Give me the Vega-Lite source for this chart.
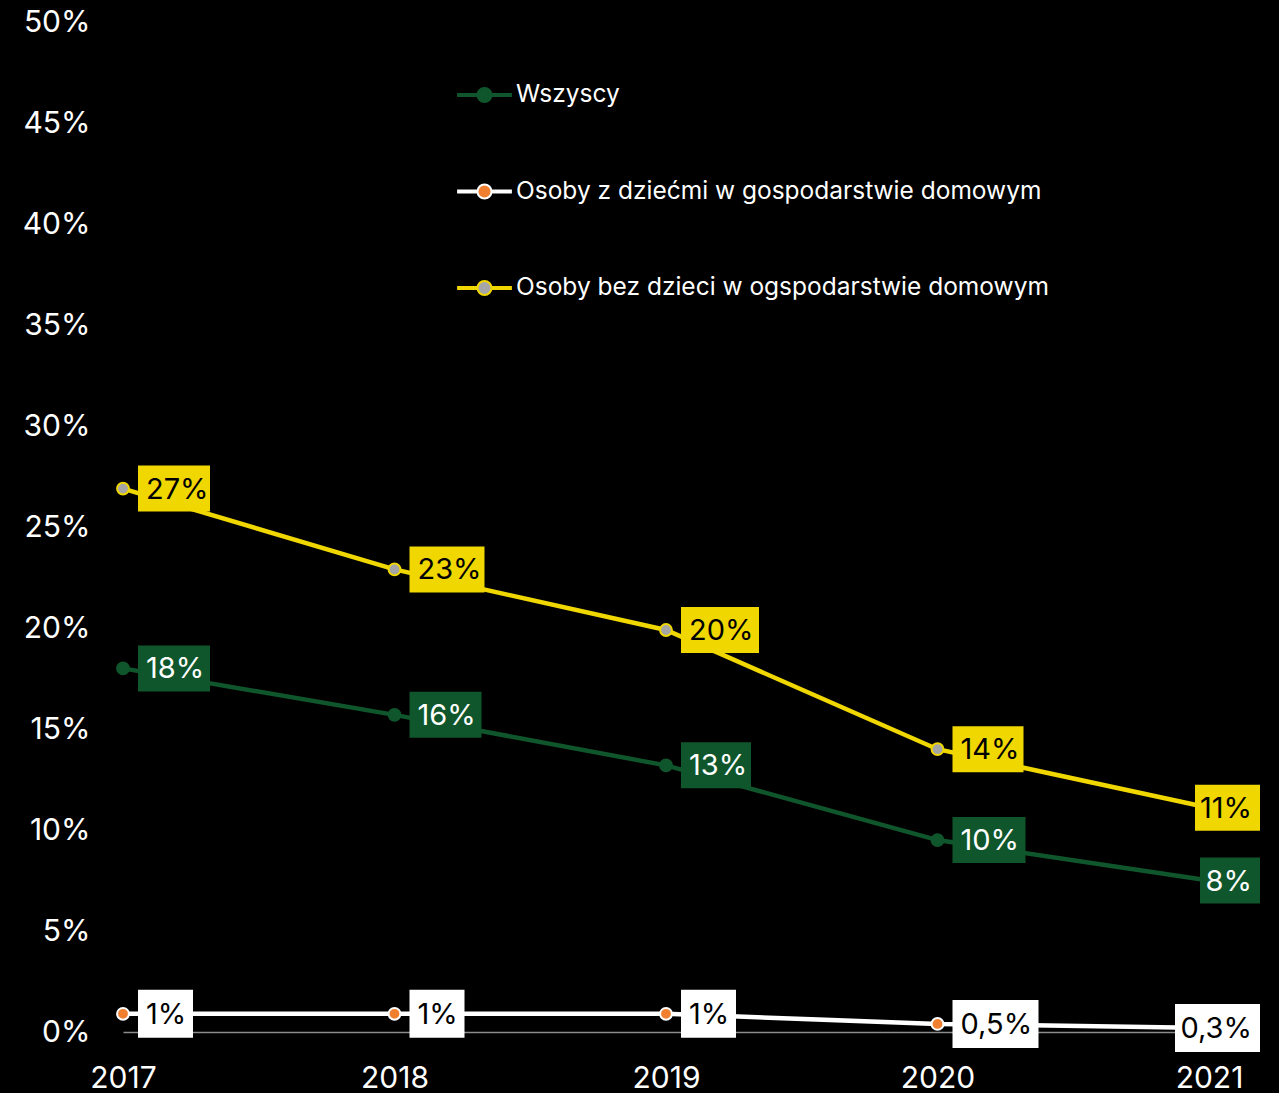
{
  "$schema": "https://vega.github.io/schema/vega-lite/v6.json",
  "width": 1086,
  "height": 1010,
  "autosize": {"type": "none"},
  "padding": {"left": 123, "top": 22, "right": 70, "bottom": 61},
  "background": "#000000",
  "config": {
    "view": {"stroke": null},
    "font": "Inter"
  },
  "data": {
    "values": [
      {"year": 2017, "series": "Wszyscy", "value": 18.0, "label": "18%"},
      {"year": 2018, "series": "Wszyscy", "value": 15.7, "label": "16%"},
      {"year": 2019, "series": "Wszyscy", "value": 13.2, "label": "13%"},
      {"year": 2020, "series": "Wszyscy", "value": 9.5, "label": "10%"},
      {"year": 2021, "series": "Wszyscy", "value": 7.5, "label": "8%"},
      {"year": 2017, "series": "Osoby z dziećmi w gospodarstwie domowym", "value": 0.9, "label": "1%"},
      {"year": 2018, "series": "Osoby z dziećmi w gospodarstwie domowym", "value": 0.9, "label": "1%"},
      {"year": 2019, "series": "Osoby z dziećmi w gospodarstwie domowym", "value": 0.9, "label": "1%"},
      {"year": 2020, "series": "Osoby z dziećmi w gospodarstwie domowym", "value": 0.4, "label": "0,5%"},
      {"year": 2021, "series": "Osoby z dziećmi w gospodarstwie domowym", "value": 0.2, "label": "0,3%"},
      {"year": 2017, "series": "Osoby bez dzieci w ogspodarstwie domowym", "value": 26.9, "label": "27%"},
      {"year": 2018, "series": "Osoby bez dzieci w ogspodarstwie domowym", "value": 22.9, "label": "23%"},
      {"year": 2019, "series": "Osoby bez dzieci w ogspodarstwie domowym", "value": 19.9, "label": "20%"},
      {"year": 2020, "series": "Osoby bez dzieci w ogspodarstwie domowym", "value": 14.0, "label": "14%"},
      {"year": 2021, "series": "Osoby bez dzieci w ogspodarstwie domowym", "value": 11.1, "label": "11%"}
    ]
  },
  "encoding": {
    "x": {
      "field": "year", "type": "quantitative",
      "scale": {"domain": [2017, 2021], "nice": false, "zero": false},
      "axis": {
        "title": null, "values": [2017, 2018, 2019, 2020, 2021], "format": "d",
        "grid": false, "ticks": false, "domainColor": "#8c8c8c", "domainWidth": 1.5,
        "labelFlush": false, "labelOverlap": false,
        "labelColor": "#ffffff", "labelFontSize": 30, "labelPadding": 31, "labelFont": "Inter"
      }
    },
    "y": {
      "field": "value", "type": "quantitative",
      "scale": {"domain": [0, 50], "nice": false},
      "axis": {
        "title": null, "values": [0, 5, 10, 15, 20, 25, 30, 35, 40, 45, 50],
        "labelExpr": "datum.value + '%'", "labelFlush": false, "labelOverlap": false,
        "grid": false, "ticks": false, "domain": false,
        "labelColor": "#ffffff", "labelFontSize": 30, "labelPadding": 33, "labelFont": "Inter"
      }
    }
  },
  "layer": [
    {
      "mark": {"type": "line", "strokeWidth": 4.5},
      "encoding": {
        "stroke": {
          "field": "series", "type": "nominal",
          "scale": {"domain": ["Wszyscy", "Osoby z dziećmi w gospodarstwie domowym", "Osoby bez dzieci w ogspodarstwie domowym"], "range": ["#10562c", "#ffffff", "#f0d700"]}
        }
      }
    },
    {
      "mark": {"type": "point", "filled": true, "shape": "circle", "size": 140, "strokeWidth": 2, "opacity": 1},
      "encoding": {
        "fill": {
          "field": "series", "type": "nominal",
          "scale": {"domain": ["Wszyscy", "Osoby z dziećmi w gospodarstwie domowym", "Osoby bez dzieci w ogspodarstwie domowym"], "range": ["#10562c", "#f08030", "#a6a6a6"]},
          "legend": {
            "title": null, "orient": "none", "legendX": 333, "legendY": 44.5, "direction": "vertical",
            "symbolType": "M-0.96,-0.036H-0.2545V0.036H-0.96Z M0.2545,-0.036H0.96V0.036H0.2545Z M0.2545,0A0.2545,0.2545 0 1 1 -0.2545,0A0.2545,0.2545 0 1 1 0.2545,0Z",
            "symbolSize": 3025, "symbolStrokeWidth": 2, "symbolOpacity": 1,
            "labelFontSize": 24.5, "labelColor": "#ffffff", "labelFont": "Inter", "labelOffset": 3, "labelLimit": 0,
            "rowPadding": 56.5, "padding": 0
          }
        },
        "stroke": {
          "field": "series", "type": "nominal",
          "legend": {
            "title": null, "orient": "none", "legendX": 333, "legendY": 44.5, "direction": "vertical",
            "symbolType": "M-0.96,-0.036H-0.2545V0.036H-0.96Z M0.2545,-0.036H0.96V0.036H0.2545Z M0.2545,0A0.2545,0.2545 0 1 1 -0.2545,0A0.2545,0.2545 0 1 1 0.2545,0Z",
            "symbolSize": 3025, "symbolStrokeWidth": 2, "symbolOpacity": 1,
            "labelFontSize": 24.5, "labelColor": "#ffffff", "labelFont": "Inter", "labelOffset": 3, "labelLimit": 0,
            "rowPadding": 56.5, "padding": 0
          }
        }
      }
    },
    {
      "mark": {"type": "point", "filled": true, "size": 4, "opacity": 1, "strokeWidth": 0},
      "encoding": {
        "color": {
          "field": "series", "type": "nominal",
          "scale": {"domain": ["Osoby z dziećmi w gospodarstwie domowym", "Wszyscy", "Osoby bez dzieci w ogspodarstwie domowym"], "range": ["#ffffff", "#10562c", "#f0d700"]},
          "legend": null
        },
        "shape": {
          "field": "label", "type": "nominal", "legend": null,
          "scale": {
            "domain": ["18%", "16%", "13%", "10%", "8%", "1%", "0,5%", "0,3%", "27%", "23%", "20%", "14%", "11%"],
            "range": [
              "M15,-23H87V23H15Z",
              "M15,-23H87V23H15Z",
              "M15,-23H85V23H15Z",
              "M15,-23H88V23H15Z",
              "M-9,-23H51V23H-9Z",
              "M15,-24H70V24H15Z",
              "M15,-24H101V24H15Z",
              "M-34,-24H51V24H-34Z",
              "M15,-23H87V23H15Z",
              "M15,-23H90V23H15Z",
              "M15,-23H93V23H15Z",
              "M15,-23H86V23H15Z",
              "M-14,-23H51V23H-14Z"
            ]
          }
        }
      }
    },
    {
      "transform": [{"filter": "datum.year < 2021"}],
      "mark": {"type": "text", "align": "left", "baseline": "middle", "dx": 23, "dy": 1, "fontSize": 29, "font": "Inter"},
      "encoding": {
        "text": {"field": "label"},
        "color": {"condition": {"test": "datum.series === 'Wszyscy'", "value": "#ffffff"}, "value": "#000000"}
      }
    },
    {
      "transform": [{"filter": "datum.year == 2021"}],
      "mark": {"type": "text", "align": "right", "baseline": "middle", "dx": 43, "dy": 1, "fontSize": 29, "font": "Inter"},
      "encoding": {
        "text": {"field": "label"},
        "color": {"condition": {"test": "datum.series === 'Wszyscy'", "value": "#ffffff"}, "value": "#000000"}
      }
    }
  ]
}
